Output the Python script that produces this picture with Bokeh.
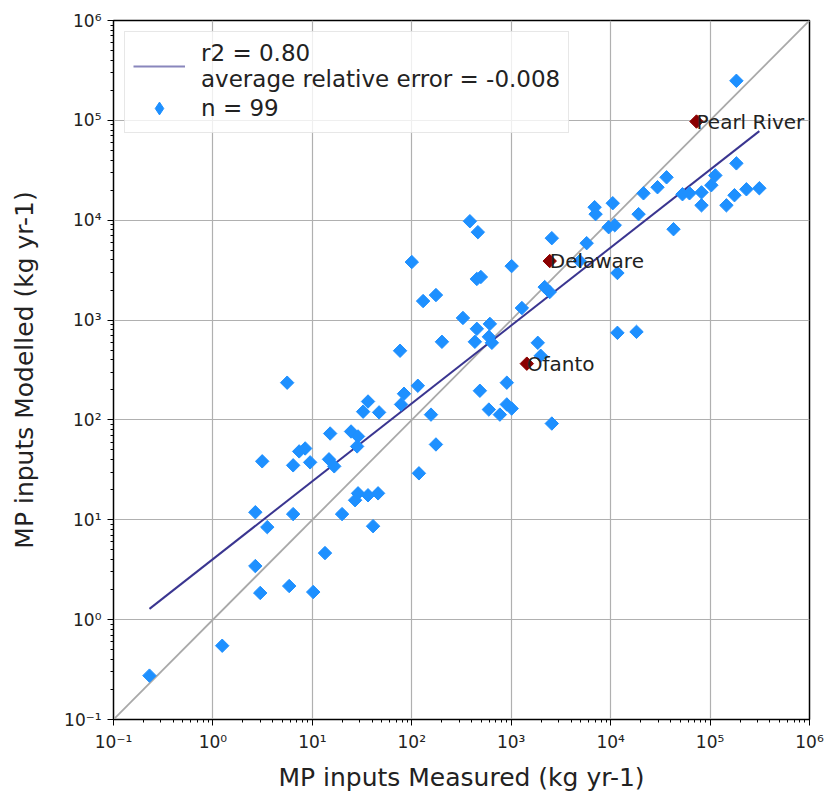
import numpy as np
from bokeh.plotting import figure
from bokeh.models import (FixedTicker, CustomJSTickFormatter, Legend, LegendItem,
                          Range1d)
from bokeh.core.properties import value
from bokeh.embed import file_html
from bokeh.resources import INLINE

# ---- data ----
measured = [36.3, 32.4, 46.9, 78, 83.5, 156, 175, 118, 15.1, 24.5, 28.8, 28.2, 7.37, 8.47,
            3.13, 6.41, 9.5, 14.7, 16.6, 26.9, 28.8, 36.3, 45.8, 2.67, 6.41, 3.52, 19.9,
            40.8, 13.4, 2.67, 2.99, 5.85, 10.2, 1.24, 0.23,
            384, 462, 2560, 100, 1010, 451, 495, 130, 175, 2170, 2440, 1280, 327, 451,
            610, 596, 639, 431, 201, 76.2, 1850, 1980, 5.58, 115, 903, 484, 596, 769,
            903, 1010, 2560, 4880,
            184000, 184000, 36500, 29600, 21400, 113000, 103000, 52800, 62100, 82000,
            82000, 146000, 176000, 232000, 313000, 6900, 7060, 10500, 19100, 9550,
            11000, 42900, 5740, 11700, 11700, 18200]
modelled = [153, 121, 119, 143, 183, 113, 56.8, 29.2, 73.1, 76.6, 68.3, 54.3, 48.4, 51.8,
            38.5, 35.1, 37.6, 40.3, 34.3, 15.7, 18.4, 17.6, 18.4, 11.9, 11.4, 8.44, 11.4,
            8.63, 4.64, 3.44, 1.85, 2.17, 1.89, 0.548, 0.275,
            9770, 7590, 6610, 3810, 3470, 2580, 2700, 1550, 1780, 2140, 1910, 1320, 1050,
            817, 916, 680, 592, 606, 606, 493, 592, 439, 236, 220, 236, 196, 127, 113,
            143, 130, 92, 3900,
            249000, 37100, 26900, 21400, 18600, 28100, 22400, 18200, 18600, 19000,
            14100, 14100, 17800, 20400, 20900, 13500, 11500, 14800, 11500, 8510,
            8910, 8130, 5890, 2960, 745, 762]

highlight_names = ["Pearl River", "Delaware", "Ofanto"]
highlight_measured = [73000, 2440, 1435]
highlight_modelled = [97300, 3900, 366]

fit_slope = 0.78        # log10-log10 regression slope
fit_intercept = 0.606   # log10 intercept

label_fit = "r2 = 0.80\naverage relative error = -0.008"
label_n = "n = 99"

major_ticks = [0.1, 1, 10, 100, 1000, 10000, 100000, 1000000]
minor_ticks = [m * 10.0 ** e for e in range(-1, 6) for m in range(2, 10)]

FONT = "DejaVu Sans"
BLUE = "#1e90ff"
FITC = "#3a3590"
NAN = float("nan")

p = figure(width=830, height=794, x_axis_type="log", y_axis_type="log",
           x_range=Range1d(0.1, 1e6), y_range=Range1d(0.1, 1e6),
           output_backend="svg", toolbar_location=None,
           min_border_left=113, min_border_top=20, min_border_right=21,
           min_border_bottom=73)

# 1:1 line
p.line([major_ticks[0], major_ticks[-1]], [major_ticks[0], major_ticks[-1]],
       line_color="#a9a9a9", line_width=1.8)

# regression line
xmin, xmax = min(measured), max(measured)
fx = [xmin, xmax]
fy = [10 ** (fit_intercept + fit_slope * np.log10(v)) for v in fx]
p.line(fx, fy, line_color=FITC, line_width=2)

p.scatter(measured, modelled, marker="square", angle=np.pi / 4, size=9.5,
          fill_color=BLUE, line_color=BLUE)
p.scatter(highlight_measured, highlight_modelled, marker="square", angle=np.pi / 4,
          size=9.5, fill_color="#8b0000", line_color="#8b0000")

# legend-only glyphs (not drawn in the plot: NaN data)
leg_line = p.line([NAN, NAN], [NAN, NAN], line_color=FITC, line_width=2, line_alpha=0.6)
leg_pts = p.scatter([NAN], [NAN], marker="diamond", size=16, fill_color=BLUE,
                    line_color=BLUE)

p.text(highlight_measured, highlight_modelled, text=highlight_names,
       text_font=value(FONT), text_font_size="20px", text_color="#222222",
       text_baseline="alphabetic", text_align="left")

fmt = CustomJSTickFormatter(code="""
const sup = {'-':'\u207b','0':'\u2070','1':'\u00b9','2':'\u00b2','3':'\u00b3','4':'\u2074',
             '5':'\u2075','6':'\u2076','7':'\u2077','8':'\u2078','9':'\u2079'};
const e = String(Math.round(Math.log10(tick)));
let s = '10';
for (const c of e) { s += sup[c]; }
return s;
""")

for ax in (p.xaxis[0], p.yaxis[0]):
    ax.ticker = FixedTicker(ticks=major_ticks, minor_ticks=minor_ticks)
    ax.formatter = fmt
    ax.major_label_text_font = FONT
    ax.major_label_text_font_size = "17px"
    ax.major_label_text_color = "#222222"
    ax.axis_label_text_font = FONT
    ax.axis_label_text_font_size = "25px"
    ax.axis_label_text_font_style = "normal"
    ax.axis_label_text_color = "#222222"
    ax.axis_line_color = "black"
    ax.major_tick_line_color = "black"
    ax.minor_tick_line_color = "black"
    ax.major_tick_out = 6
    ax.major_tick_in = 0
    ax.minor_tick_out = 3
    ax.minor_tick_in = 0
    ax.major_label_standoff = 6

p.xaxis.axis_label = "MP inputs Measured (kg yr-1)"
p.yaxis.axis_label = "MP inputs Modelled (kg yr-1)"
p.xaxis.axis_label_standoff = 8
p.yaxis.axis_label_standoff = 22

p.xgrid.grid_line_color = "#b0b0b0"
p.ygrid.grid_line_color = "#b0b0b0"
p.xgrid.grid_line_width = 1.2
p.ygrid.grid_line_width = 1.2

p.outline_line_color = "black"
p.outline_line_width = 1.5
p.background_fill_color = "white"
p.border_fill_color = "white"

legend = Legend(items=[LegendItem(label=label_fit, renderers=[leg_line]),
                       LegendItem(label=label_n, renderers=[leg_pts])],
                location="top_left")
legend.label_text_font = FONT
legend.label_text_font_size = "23px"
legend.label_text_color = "#222222"
legend.border_line_color = "#d0d0d0"
legend.border_line_width = 1
legend.background_fill_alpha = 0.8
legend.margin = 11
legend.padding = 8
legend.spacing = 0
legend.glyph_width = 52
legend.glyph_height = 32
legend.label_standoff = 16
p.add_layout(legend)

open("out.html", "w").write(file_html(p, INLINE))
